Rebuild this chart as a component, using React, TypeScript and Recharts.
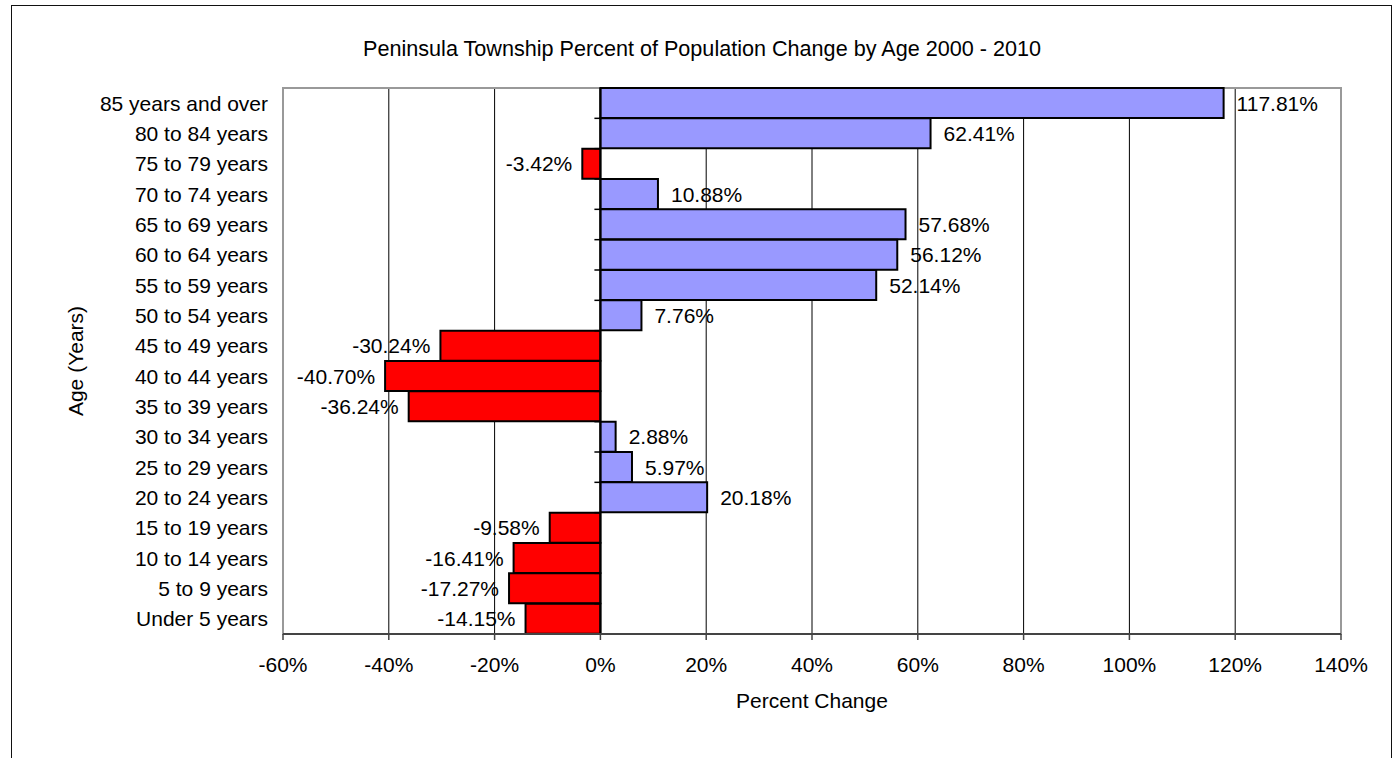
import React from 'react';
import { BarChart, Bar, Cell, XAxis, YAxis, CartesianGrid, ReferenceArea, ReferenceLine, LabelList } from 'recharts';

const ageGroups = [
  '85 years and over', '80 to 84 years', '75 to 79 years', '70 to 74 years',
  '65 to 69 years', '60 to 64 years', '55 to 59 years', '50 to 54 years',
  '45 to 49 years', '40 to 44 years', '35 to 39 years', '30 to 34 years',
  '25 to 29 years', '20 to 24 years', '15 to 19 years', '10 to 14 years',
  '5 to 9 years', 'Under 5 years',
];
const percentChange = [
  117.81, 62.41, -3.42, 10.88, 57.68, 56.12, 52.14, 7.76,
  -30.24, -40.7, -36.24, 2.88, 5.97, 20.18, -9.58, -16.41, -17.27, -14.15,
];
const xTicks = [-60, -40, -20, 0, 20, 40, 60, 80, 100, 120, 140];

const FONT = '"Liberation Sans", Arial, sans-serif';
const FS = 21;

const data = ageGroups.map((age, i) => ({ age, value: percentChange[i] }));

// zero line plus the little marks between categories
const ZeroLine = (props: any) => {
  const { x1, y1, x2, y2 } = props;
  const n = ageGroups.length;
  const step = (y2 - y1) / n;
  const marks = [];
  for (let i = 1; i < n; i++) {
    const y = y1 + i * step;
    marks.push(<line key={i} x1={x1 - 6} x2={x1} y1={y} y2={y} stroke="#000" strokeWidth={1.5} />);
  }
  return (
    <g>
      <line x1={x1} y1={y1} x2={x2} y2={y2} stroke="#000" strokeWidth={2} />
      {marks}
    </g>
  );
};

const ValueLabel = (props: any) => {
  const { x, y, width, height, value } = props;
  const neg = value < 0;
  const end = x + width;
  return (
    <text
      x={neg ? end - 10 : end + 13}
      y={y + height / 2}
      dy="0.36em"
      textAnchor={neg ? 'end' : 'start'}
      fontSize={FS}
      fontFamily={FONT}
      fill="#000"
    >
      {value.toFixed(2)}%
    </text>
  );
};

const App: React.FC = () => {
  return (
    <div style={{ position: 'absolute', left: 0, top: 0, width: 1395, height: 758, background: '#fff', fontFamily: FONT, overflow: 'hidden' }}>
      <div style={{ position: 'absolute', left: 11, top: 5, width: 1379, height: 800, border: '1.5px solid #111' }} />
      <div style={{ position: 'absolute', left: 11, top: 38, width: 1382, textAlign: 'center', fontSize: 21.6, lineHeight: '21px', color: '#000' }}>
        Peninsula Township Percent of Population Change by Age 2000 - 2010
      </div>
      <div style={{ position: 'absolute', left: 0, top: 0 }}>
        <BarChart
          width={1395}
          height={758}
          data={data}
          layout="vertical"
          barCategoryGap={0}
          margin={{ top: 88, right: 54, left: 63, bottom: 44 }}
        >
          <CartesianGrid horizontal={false} vertical stroke="#000" strokeWidth={1} />
          <XAxis
            type="number"
            domain={[-60, 140]}
            ticks={xTicks}
            interval={0}
            tickFormatter={(v) => `${v}%`}
            tick={{ fontSize: FS, fontFamily: FONT, fill: '#000' }}
            tickSize={6}
            tickMargin={17}
            tickLine={{ stroke: '#444', strokeWidth: 1.5 }}
            axisLine={{ stroke: '#444', strokeWidth: 2 }}
            height={80}
            label={{ value: 'Percent Change', position: 'insideBottom', offset: 6, fontSize: FS, fontFamily: FONT, fill: '#000' }}
          />
          <YAxis
            type="category"
            dataKey="age"
            width={220}
            axisLine={false}
            tickLine={false}
            tickMargin={9}
            interval={0}
            tick={{ fontSize: FS, fontFamily: FONT, fill: '#000' }}
            label={{ value: 'Age (Years)', angle: -90, position: 'insideLeft', offset: 13, fontSize: FS, fontFamily: FONT, fill: '#000', style: { textAnchor: 'middle' } }}
          />
          <ReferenceArea x1={-60} x2={140} fill="none" stroke="#999" strokeWidth={2} />
          <Bar dataKey="value" stroke="#000" strokeWidth={2} isAnimationActive={false}>
            {data.map((d, i) => (
              <Cell key={i} fill={d.value < 0 ? '#FF0000' : '#9999FF'} />
            ))}
            <LabelList dataKey="value" content={<ValueLabel />} />
          </Bar>
          <ReferenceLine x={0} shape={<ZeroLine />} />
        </BarChart>
      </div>
    </div>
  );
};

export default App;
